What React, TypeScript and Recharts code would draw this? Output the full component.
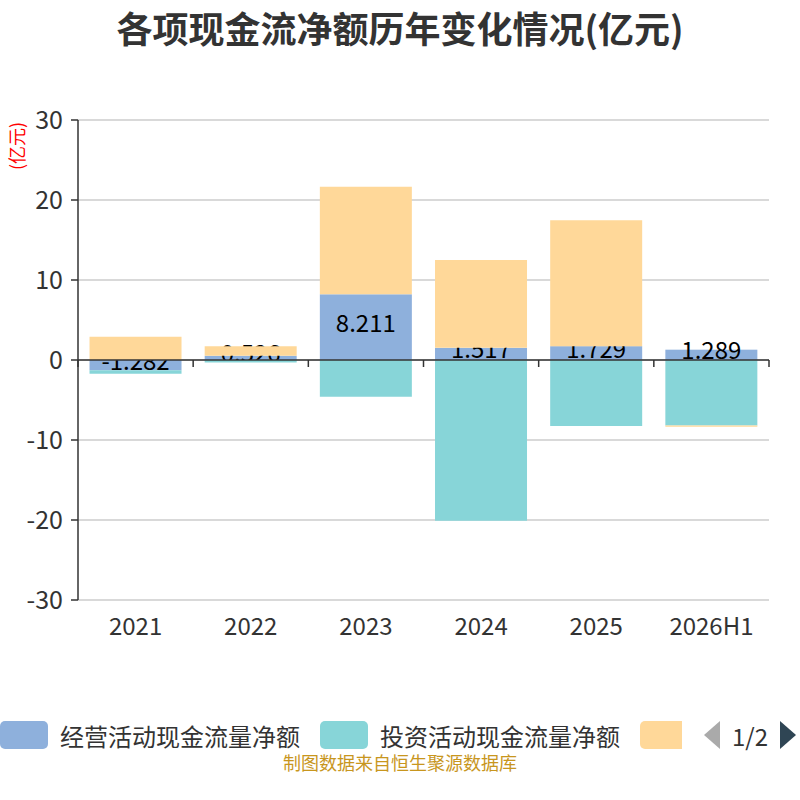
import React from 'react';
import {
  BarChart, Bar, XAxis, YAxis, CartesianGrid, ReferenceLine
} from 'recharts';

const years = ['2021', '2022', '2023', '2024', '2025', '2026H1'];
const operating = [-1.282, 0.526, 8.211, 1.517, 1.729, 1.289];
const investing = [-0.45, -0.3, -4.6, -20.1, -8.25, -8.2];
const financing = [2.9, 1.18, 13.45, 10.98, 15.73, -0.15];
const yTicks = [-30, -20, -10, 0, 10, 20, 30];

const rows = years.map((year, i) => ({
  year,
  op: operating[i],
  inv: investing[i],
  fin: financing[i],
}));

const FONT = '"Noto Sans CJK SC", "Noto Sans", sans-serif';

// zero axis line with ticks on the category boundaries
const ZeroAxis = (props: any) => {
  const { x1, x2, y1 } = props;
  const n = years.length;
  const step = (x2 - x1) / n;
  return (
    <g>
      <line x1={x1} x2={x2} y1={y1} y2={y1} stroke="#333" strokeWidth={1.5} />
      {Array.from({ length: n + 1 }).map((_, i) => (
        <line key={i} x1={x1 + step * i} x2={x1 + step * i} y1={y1} y2={y1 + 7} stroke="#333" strokeWidth={1.5} />
      ))}
    </g>
  );
};

// operating bar draws its own value label so later stacks paint over it
const OpBar = (props: any) => {
  const { x, y, width, height, fill, payload } = props;
  const top = Math.min(y, y + height);
  const h = Math.abs(height);
  return (
    <g>
      <rect x={x} y={top} width={width} height={h} fill={fill} />
      <text
        x={x + width / 2}
        y={top + h / 2 - 6}
        textAnchor="middle"
        dominantBaseline="central"
        fontSize={24}
        fontFamily={FONT}
        fill="#000"
      >
        {payload.op}
      </text>
    </g>
  );
};

const LegendItem = ({ color, label }: { color: string; label: string }) => (
  <div style={{ display: 'flex', alignItems: 'center', marginRight: 20 }}>
    <div style={{ width: 48, height: 28, borderRadius: 5, background: color, marginRight: 12 }} />
    <span style={{ fontSize: 24, color: '#333', whiteSpace: 'nowrap' }}>{label}</span>
  </div>
);

export default function App() {
  return (
    <div style={{ position: 'absolute', left: 0, top: 0, width: 800, height: 800, background: '#fff', fontFamily: FONT, overflow: 'hidden' }}>
      <div style={{ position: 'absolute', top: 2, width: 800, textAlign: 'center', fontSize: 36, lineHeight: '50px', fontWeight: 'bold', color: '#333' }}>
        各项现金流净额历年变化情况(亿元)
      </div>
      <div style={{ position: 'absolute', left: 16, top: 146, transform: 'translate(-50%, -50%) rotate(-90deg)', color: 'red', fontSize: 18, whiteSpace: 'nowrap' }}>
        (亿元)
      </div>
      <BarChart
        width={800}
        height={800}
        data={rows}
        stackOffset="sign"
        barCategoryGap="10%"
        margin={{ top: 120, right: 31, left: 0, bottom: 160 }}
      >
        <CartesianGrid vertical={false} stroke="#ccc" strokeWidth={1.5} />
        <XAxis
          dataKey="year"
          axisLine={false}
          tickLine={false}
          height={40}
          tick={{ fontSize: 24, fill: '#333', fontFamily: FONT }}
          tickMargin={12}
        />
        <YAxis
          domain={[-30, 30]}
          ticks={yTicks}
          width={78}
          axisLine={{ stroke: '#333', strokeWidth: 1.5 }}
          tickLine={{ stroke: '#333', strokeWidth: 1.5 }}
          tickSize={7}
          tickMargin={8}
          tick={{ fontSize: 25, fill: '#333', fontFamily: FONT }}
          interval={0}
        />
        <ReferenceLine y={0} shape={ZeroAxis} />
        <Bar dataKey="op" stackId="a" fill="#8eb0dc" shape={OpBar} isAnimationActive={false} />
        <Bar dataKey="inv" stackId="a" fill="#87d5d8" isAnimationActive={false} />
        <Bar dataKey="fin" stackId="a" fill="#ffd899" isAnimationActive={false} />
      </BarChart>
      <div style={{ position: 'absolute', left: 0, top: 720, width: 800, height: 30, display: 'flex', alignItems: 'center' }}>
        <LegendItem color="#8eb0dc" label="经营活动现金流量净额" />
        <LegendItem color="#87d5d8" label="投资活动现金流量净额" />
        <div style={{ width: 48, height: 28, borderRadius: 5, background: '#ffd899' }} />
      </div>
      <div style={{ position: 'absolute', left: 682, top: 718, width: 118, height: 34, background: '#fff', display: 'flex', alignItems: 'center' }}>
        <svg width={20} height={30} style={{ marginLeft: 20 }}>
          <polygon points="18,1 2,15 18,29" fill="#aaa" />
        </svg>
        <span style={{ fontSize: 24, color: '#333', margin: '0 10px' }}>1/2</span>
        <svg width={20} height={30}>
          <polygon points="2,1 18,15 2,29" fill="#2f4554" />
        </svg>
      </div>
      <div style={{ position: 'absolute', top: 749, width: 800, textAlign: 'center', fontSize: 18, lineHeight: '26px', color: '#c8961e' }}>
        制图数据来自恒生聚源数据库
      </div>
    </div>
  );
}
